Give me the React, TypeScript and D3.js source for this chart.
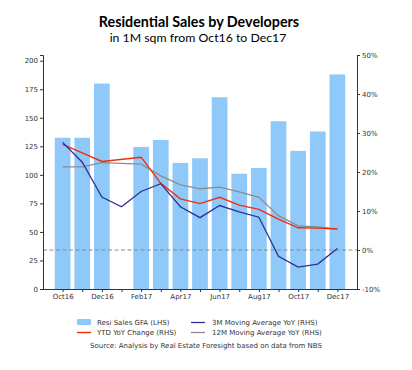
import React, { useEffect, useRef } from "react";
import * as d3 from "d3";

const months = ["Oct16", "Nov16", "Dec16", "Jan17", "Feb17", "Mar17", "Apr17", "May17", "Jun17", "Jul17", "Aug17", "Sep17", "Oct17", "Nov17", "Dec17"];
const salesGFA: (number | null)[] = [132.5, 132.5, 180, null, 124.5, 130.5, 110.5, 114.5, 168, 101, 106, 147, 121, 138, 188];
const ytdYoY: (number | null)[] = [27.1, 24.9, 22.7, null, 23.8, 17.1, 13.1, 11.9, 13.5, 11.5, 10.4, 7.9, 5.7, 5.6, 5.4];
const ma3: number[] = [27.6, 22.5, 13.6, 11.1, 15.0, 17.0, 11.1, 8.3, 11.4, 9.8, 8.4, -1.6, -4.4, -3.6, 0.4];
const ma12: number[] = [21.3, 21.3, 22.4, 22.2, 22.0, 19.0, 16.7, 15.7, 16.1, 14.9, 13.5, 8.8, 6.2, 5.9, 5.4];
const leftTicks = [0, 25, 50, 75, 100, 125, 150, 175, 200];
const rightTicks = [-10, 0, 10, 20, 30, 40, 50];

const W = 412;
const H = 370;
const tickFont = "DejaVu Sans, sans-serif";

export default function App() {
  const svgRef = useRef<SVGSVGElement>(null);

  useEffect(() => {
    if (!svgRef.current) return;
    const svg = d3.select(svgRef.current);
    svg.selectAll("*").remove();

    const left = 43, right = 357, top = 55, bottom = 289;

    const x = d3.scaleLinear().domain([-1, months.length]).range([left, right]);
    const yL = d3.scaleLinear().domain([0, 205]).range([bottom, top]);
    const yR = d3.scaleLinear().domain([-10, 50]).range([bottom, top]);
    const bw = x(0.8) - x(0);

    // title
    svg.append("text").attr("x", 199).attr("y", 27).attr("text-anchor", "middle")
      .attr("font-family", "Lato, sans-serif").attr("font-weight", "bold").attr("font-size", 14.3)
      .text("Residential Sales by Developers");
    svg.append("text").attr("x", 198).attr("y", 42).attr("text-anchor", "middle")
      .attr("font-family", "Lato, sans-serif").attr("font-size", 12.3)
      .text("in 1M sqm from Oct16 to Dec17");

    // bars
    svg.append("g").selectAll("rect")
      .data(salesGFA.map((v, i) => ({ v, i })).filter((d) => d.v != null))
      .enter().append("rect")
      .attr("x", (d) => x(d.i) - bw / 2)
      .attr("width", bw)
      .attr("y", (d) => yL(d.v as number))
      .attr("height", (d) => yL(0) - yL(d.v as number))
      .attr("fill", "#8fc9fa");

    // zero line (RHS)
    svg.append("line").attr("x1", left).attr("x2", right).attr("y1", yR(0)).attr("y2", yR(0))
      .attr("stroke", "#8a8a8a").attr("stroke-width", 1).attr("stroke-dasharray", "4,2.5");

    const line = d3.line<{ v: number; i: number }>().x((d) => x(d.i)).y((d) => yR(d.v));
    const pts = (arr: (number | null)[]) =>
      arr.map((v, i) => ({ v: v as number, i })).filter((d) => d.v != null);

    svg.append("path").attr("d", line(pts(ma12))).attr("fill", "none")
      .attr("stroke", "#8c8c8c").attr("stroke-width", 1.3);
    svg.append("path").attr("d", line(pts(ytdYoY))).attr("fill", "none")
      .attr("stroke", "#f02c0c").attr("stroke-width", 1.4);
    svg.append("path").attr("d", line(pts(ma3))).attr("fill", "none")
      .attr("stroke", "#2e2f96").attr("stroke-width", 1.3);

    // axes
    const gx = svg.append("g").attr("transform", `translate(0,${bottom})`)
      .call(d3.axisBottom(x).tickValues(d3.range(months.length)).tickSize(3).tickPadding(2)
        .tickFormat((d) => ((d as number) % 2 === 0 ? months[d as number] : "")));
    gx.select(".domain").attr("d", `M${left},0.5H${right}`);

    const gl = svg.append("g").attr("transform", `translate(${left},0)`)
      .call(d3.axisLeft(yL).tickValues(leftTicks).tickSize(3).tickPadding(2));
    const gr = svg.append("g").attr("transform", `translate(${right},0)`)
      .call(d3.axisRight(yR).tickValues(rightTicks).tickSize(3).tickPadding(2)
        .tickFormat((d) => `${d}%`));

    [gx, gl, gr].forEach((g) => {
      g.attr("font-family", tickFont).attr("font-size", 7).attr("color", "#333");
      g.selectAll(".domain").attr("stroke", "#333");
      g.selectAll("text").attr("fill", "#333");
    });

    // legend
    const lg = svg.append("g").attr("font-family", tickFont).attr("font-size", 7).attr("fill", "#333");
    lg.append("rect").attr("x", 77).attr("y", 319).attr("width", 14).attr("height", 6).attr("fill", "#8fc9fa");
    lg.append("text").attr("x", 97).attr("y", 325).text("Resi Sales GFA (LHS)");
    lg.append("line").attr("x1", 77).attr("x2", 91).attr("y1", 332.5).attr("y2", 332.5)
      .attr("stroke", "#f02c0c").attr("stroke-width", 1.4);
    lg.append("text").attr("x", 97).attr("y", 335).text("YTD YoY Change (RHS)");
    lg.append("line").attr("x1", 191).attr("x2", 205).attr("y1", 322.5).attr("y2", 322.5)
      .attr("stroke", "#2e2f96").attr("stroke-width", 1.3);
    lg.append("text").attr("x", 212).attr("y", 325).text("3M Moving Average YoY (RHS)");
    lg.append("line").attr("x1", 191).attr("x2", 205).attr("y1", 332.5).attr("y2", 332.5)
      .attr("stroke", "#8c8c8c").attr("stroke-width", 1.3);
    lg.append("text").attr("x", 212).attr("y", 335).text("12M Moving Average YoY (RHS)");
    lg.append("text").attr("x", 206).attr("y", 348).attr("text-anchor", "middle")
      .text("Source: Analysis by Real Estate Foresight based on data from NBS");
  }, []);

  return (
    <svg ref={svgRef} width={W} height={H}
      style={{ position: "absolute", left: 0, top: 0, background: "#fff" }} />
  );
}
